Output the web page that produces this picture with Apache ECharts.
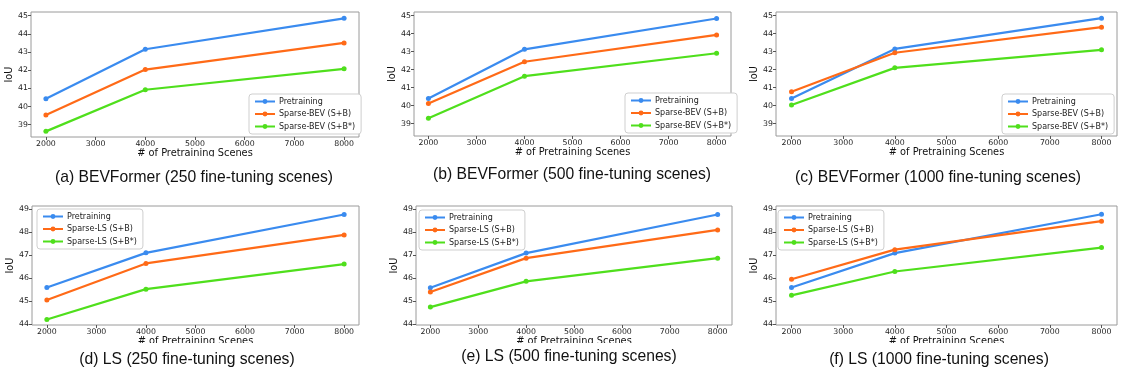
<!DOCTYPE html>
<html>
<head>
<meta charset="utf-8">
<script src="https://cdn.jsdelivr.net/npm/echarts@6/dist/echarts.min.js"></script>
<style>
  html, body { margin: 0; padding: 0; background: #fff; }
  #chart { width: 1130px; height: 373px; }
</style>
</head>
<body>
<div id="chart"></div>
<script>
// pretraining scene counts (x values)
const scenes = [2000, 4000, 8000]
const xTicks = [2000, 3000, 4000, 5000, 6000, 7000, 8000]
const bevTicks = [39, 40, 41, 42, 43, 44, 45]
const lsTicks = [44, 45, 46, 47, 48, 49]

// BEVFormer
const bev250Pre = [40.42, 43.15, 44.85]
const bev250SB = [39.53, 42.03, 43.50]
const bev250SBs = [38.63, 40.92, 42.07]
const bev500Pre = [40.40, 43.13, 44.84]
const bev500SB = [40.12, 42.44, 43.93]
const bev500SBs = [39.30, 41.64, 42.91]
const bev1000Pre = [40.40, 43.15, 44.86]
const bev1000SB = [40.78, 42.94, 44.36]
const bev1000SBs = [40.04, 42.10, 43.10]

// LS
const ls250Pre = [45.60, 47.11, 48.78]
const ls250SB = [45.06, 46.65, 47.89]
const ls250SBs = [44.21, 45.53, 46.62]
const ls500Pre = [45.59, 47.10, 48.78]
const ls500SB = [45.41, 46.88, 48.11]
const ls500SBs = [44.75, 45.87, 46.88]
const ls1000Pre = [45.60, 47.10, 48.79]
const ls1000SB = [45.96, 47.25, 48.49]
const ls1000SBs = [45.26, 46.30, 47.34]

const captions = [
  '(a) BEVFormer (250 fine-tuning scenes)',
  '(b) BEVFormer (500 fine-tuning scenes)',
  '(c) BEVFormer (1000 fine-tuning scenes)',
  '(d) LS (250 fine-tuning scenes)',
  '(e) LS (500 fine-tuning scenes)',
  '(f) LS (1000 fine-tuning scenes)'
]
const bevNames = ['Pretraining', 'Sparse-BEV (S+B)', 'Sparse-BEV (S+B*)']
const lsNames = ['Pretraining', 'Sparse-LS (S+B)', 'Sparse-LS (S+B*)']
const colors = ['#3a8bef', '#ff6a17', '#4fdf1c']

const panels = [
  { grid: { left: 31, top: 12, width: 328, height: 125 }, ylim: [38.32, 45.2], ticks: bevTicks, names: bevNames,
    data: [bev250Pre, bev250SB, bev250SBs], legend: { left: 249, top: 94 }, nameGap: 14, cap: [194, 170] },
  { grid: { left: 414, top: 12, width: 317, height: 124 }, ylim: [38.32, 45.2], ticks: bevTicks, names: bevNames,
    data: [bev500Pre, bev500SB, bev500SBs], legend: { left: 625, top: 93 }, nameGap: 8, cap: [572, 167] },
  { grid: { left: 776, top: 12, width: 341, height: 124 }, ylim: [38.32, 45.2], ticks: bevTicks, names: bevNames,
    data: [bev1000Pre, bev1000SB, bev1000SBs], legend: { left: 1002, top: 94 }, nameGap: 13, cap: [938, 170] },
  { grid: { left: 32, top: 206, width: 327, height: 119 }, ylim: [43.97, 49.15], ticks: lsTicks, names: lsNames,
    data: [ls250Pre, ls250SB, ls250SBs], legend: { left: 37, top: 209 }, nameGap: 12, cap: [187, 352] },
  { grid: { left: 416, top: 206, width: 316, height: 119 }, ylim: [43.97, 49.15], ticks: lsTicks, names: lsNames,
    data: [ls500Pre, ls500SB, ls500SBs], legend: { left: 419, top: 210 }, nameGap: 12, cap: [569, 349] },
  { grid: { left: 776, top: 206, width: 341, height: 119 }, ylim: [43.97, 49.15], ticks: lsTicks, names: lsNames,
    data: [ls1000Pre, ls1000SB, ls1000SBs], legend: { left: 778, top: 210 }, nameGap: 15, cap: [939, 352] }
]

const tickFont = { fontFamily: 'DejaVu Sans', fontSize: 7.8, color: '#222' }
const nameFont = { fontFamily: 'DejaVu Sans', fontSize: 9.8, color: '#111' }

const option = {
  animation: false,
  backgroundColor: '#fff',
  grid: [], xAxis: [], yAxis: [], series: [], legend: [], title: [],
  graphic: [
    // the x-axis titles are cut off at the bottom in the original figure
    { type: 'rect', left: 0, top: 156.5, shape: { width: 1130, height: 9 }, style: { fill: '#fff' }, z: 100 },
    { type: 'rect', left: 0, top: 343, shape: { width: 1130, height: 5 }, style: { fill: '#fff' }, z: 100 }
  ]
}

panels.forEach((p, i) => {
  option.grid.push({ ...p.grid, show: true, borderColor: '#9a9a9a', borderWidth: 1, backgroundColor: 'transparent' })
  option.xAxis.push({
    type: 'value', gridIndex: i, min: 1700, max: 8300,
    name: '# of Pretraining Scenes', nameLocation: 'middle', nameGap: 11, nameTextStyle: nameFont,
    axisLine: { show: false },
    axisTick: { show: true, length: 3, lineStyle: { color: '#555' }, customValues: xTicks },
    axisLabel: { ...tickFont, margin: 3, customValues: xTicks, formatter: v => String(v) },
    splitLine: { show: false }
  })
  option.yAxis.push({
    type: 'value', gridIndex: i, min: p.ylim[0], max: p.ylim[1],
    name: 'IoU', nameLocation: 'middle', nameRotate: 90, nameGap: p.nameGap, nameTextStyle: nameFont,
    axisLine: { show: false },
    axisTick: { show: true, length: 3, lineStyle: { color: '#555' }, customValues: p.ticks },
    axisLabel: { ...tickFont, margin: 3, customValues: p.ticks, formatter: v => String(v) },
    splitLine: { show: false }
  })
  p.names.forEach((name, k) => {
    option.series.push({
      name: name, type: 'line', xAxisIndex: i, yAxisIndex: i,
      data: scenes.map((x, j) => [x, p.data[k][j]]),
      color: colors[k],
      symbol: 'circle', symbolSize: 5, showSymbol: true,
      lineStyle: { width: 2.2, color: colors[k] },
      itemStyle: { color: colors[k] },
      emphasis: { disabled: true },
      z: 3 + k
    })
  })
  option.legend.push({
    data: p.names, orient: 'vertical', left: p.legend.left, top: p.legend.top,
    padding: [3, 6, 3, 5], itemGap: 3.5, itemWidth: 20, itemHeight: 6,
    borderColor: '#cfcfcf', borderWidth: 1, borderRadius: 3, backgroundColor: '#fff',
    textStyle: { fontFamily: 'DejaVu Sans', fontSize: 8, color: '#222', lineHeight: 9, padding: [0, 0, 0, -1] },
    selectedMode: false
  })
  option.title.push({
    text: captions[i], left: p.cap[0], top: p.cap[1], textAlign: 'center', padding: 0,
    textStyle: { fontFamily: 'Liberation Sans', fontSize: 15.7, fontWeight: 'normal', color: '#111' }
  })
})

const chart = echarts.init(document.getElementById('chart'))
chart.setOption(option)
</script>
</body>
</html>
